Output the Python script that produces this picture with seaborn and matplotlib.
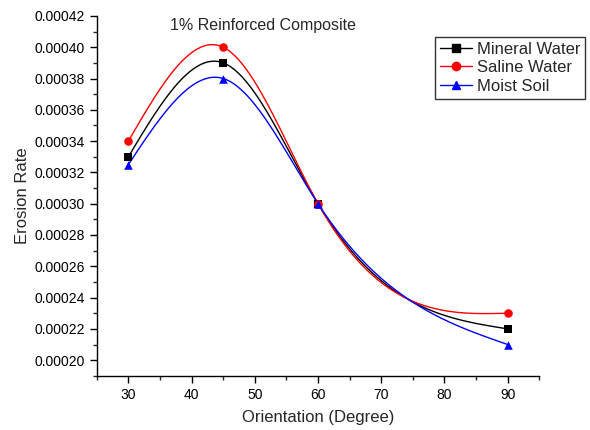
import numpy as np
import pandas as pd
import matplotlib
matplotlib.use("Agg")
import matplotlib.pyplot as plt
from matplotlib.lines import Line2D
from matplotlib.ticker import MultipleLocator, FormatStrFormatter
import seaborn as sns

# data
orientation = [30, 45, 60, 90]
mineral_water = [0.00033, 0.00039, 0.00030, 0.00022]
saline_water = [0.00034, 0.00040, 0.00030, 0.00023]
moist_soil = [0.000325, 0.00038, 0.00030, 0.00021]

series_names = ["Mineral Water", "Saline Water", "Moist Soil"]
series_colors = ["black", "red", "blue"]
series_markers = ["s", "o", "^"]


def natural_spline(x, y, n=200):
    # natural cubic spline through the points, just for the smooth line
    x = np.asarray(x, float)
    y = np.asarray(y, float)
    k = len(x)
    h = np.diff(x)
    A = np.zeros((k, k))
    b = np.zeros(k)
    A[0, 0] = 1
    A[-1, -1] = 1
    for i in range(1, k - 1):
        A[i, i - 1] = h[i - 1]
        A[i, i] = 2 * (h[i - 1] + h[i])
        A[i, i + 1] = h[i]
        b[i] = 6 * ((y[i + 1] - y[i]) / h[i] - (y[i] - y[i - 1]) / h[i - 1])
    M = np.linalg.solve(A, b)
    xs = np.linspace(x[0], x[-1], n)
    ys = np.empty_like(xs)
    for j, xv in enumerate(xs):
        i = min(np.searchsorted(x, xv, side="right") - 1, k - 2)
        t1 = x[i + 1] - xv
        t0 = xv - x[i]
        ys[j] = (M[i] * t1 ** 3 + M[i + 1] * t0 ** 3) / (6 * h[i]) \
            + (y[i] / h[i] - M[i] * h[i] / 6) * t1 \
            + (y[i + 1] / h[i] - M[i + 1] * h[i] / 6) * t0
    return xs, ys


sns.set_style("ticks")
plt.rcParams['font.family'] = ['Liberation Sans', 'DejaVu Sans']

fig = plt.figure(figsize=(5.9, 4.3), dpi=100)
ax = fig.add_axes([0.164, 0.126, 0.75, 0.837])

all_values = [mineral_water, saline_water, moist_soil]
handles = []
for name, vals, col, mk in zip(series_names, all_values, series_colors, series_markers):
    xs, ys = natural_spline(orientation, vals)
    sns.lineplot(x=xs, y=ys, ax=ax, color=col, lw=1.0, estimator=None, sort=False)
    pts = pd.DataFrame({"x": orientation, "y": vals})
    sns.scatterplot(data=pts, x="x", y="y", ax=ax, color=col, marker=mk,
                    s=38, edgecolor=col, linewidth=0, zorder=3)
    handles.append(Line2D([0], [0], color=col, lw=1.0, marker=mk,
                          markersize=6, label=name))

ax.set_xlim(25, 95)
ax.set_ylim(0.00019, 0.00042)
ax.xaxis.set_major_locator(MultipleLocator(10))
ax.xaxis.set_minor_locator(MultipleLocator(5))
ax.yaxis.set_major_locator(MultipleLocator(0.00002))
ax.yaxis.set_minor_locator(MultipleLocator(0.00001))
ax.yaxis.set_major_formatter(FormatStrFormatter('%.5f'))
ax.set_yticks(np.arange(0.00020, 0.000421, 0.00002))

ax.tick_params(which='major', direction='out', length=5, width=1, labelsize=10, colors='black')
ax.tick_params(which='minor', direction='out', length=3, width=1)
for s in ['left', 'bottom']:
    ax.spines[s].set_linewidth(1.0)
    ax.spines[s].set_color('black')
sns.despine(ax=ax)

ax.set_xlabel('Orientation (Degree)', fontsize=12, labelpad=6)
ax.set_ylabel('Erosion Rate', fontsize=12, labelpad=3)

ax.text(0.165, 0.995, '1% Reinforced Composite', transform=ax.transAxes,
        fontsize=11.5, va='top', ha='left')

fig.legend(handles=handles, loc='upper right', bbox_to_anchor=(0.992, 0.914),
           frameon=True, fancybox=False, edgecolor='black', fontsize=12,
           handlelength=1.9, handletextpad=0.3, borderpad=0.3,
           labelspacing=0.2, borderaxespad=0)

fig.savefig('out.png', dpi=100)
